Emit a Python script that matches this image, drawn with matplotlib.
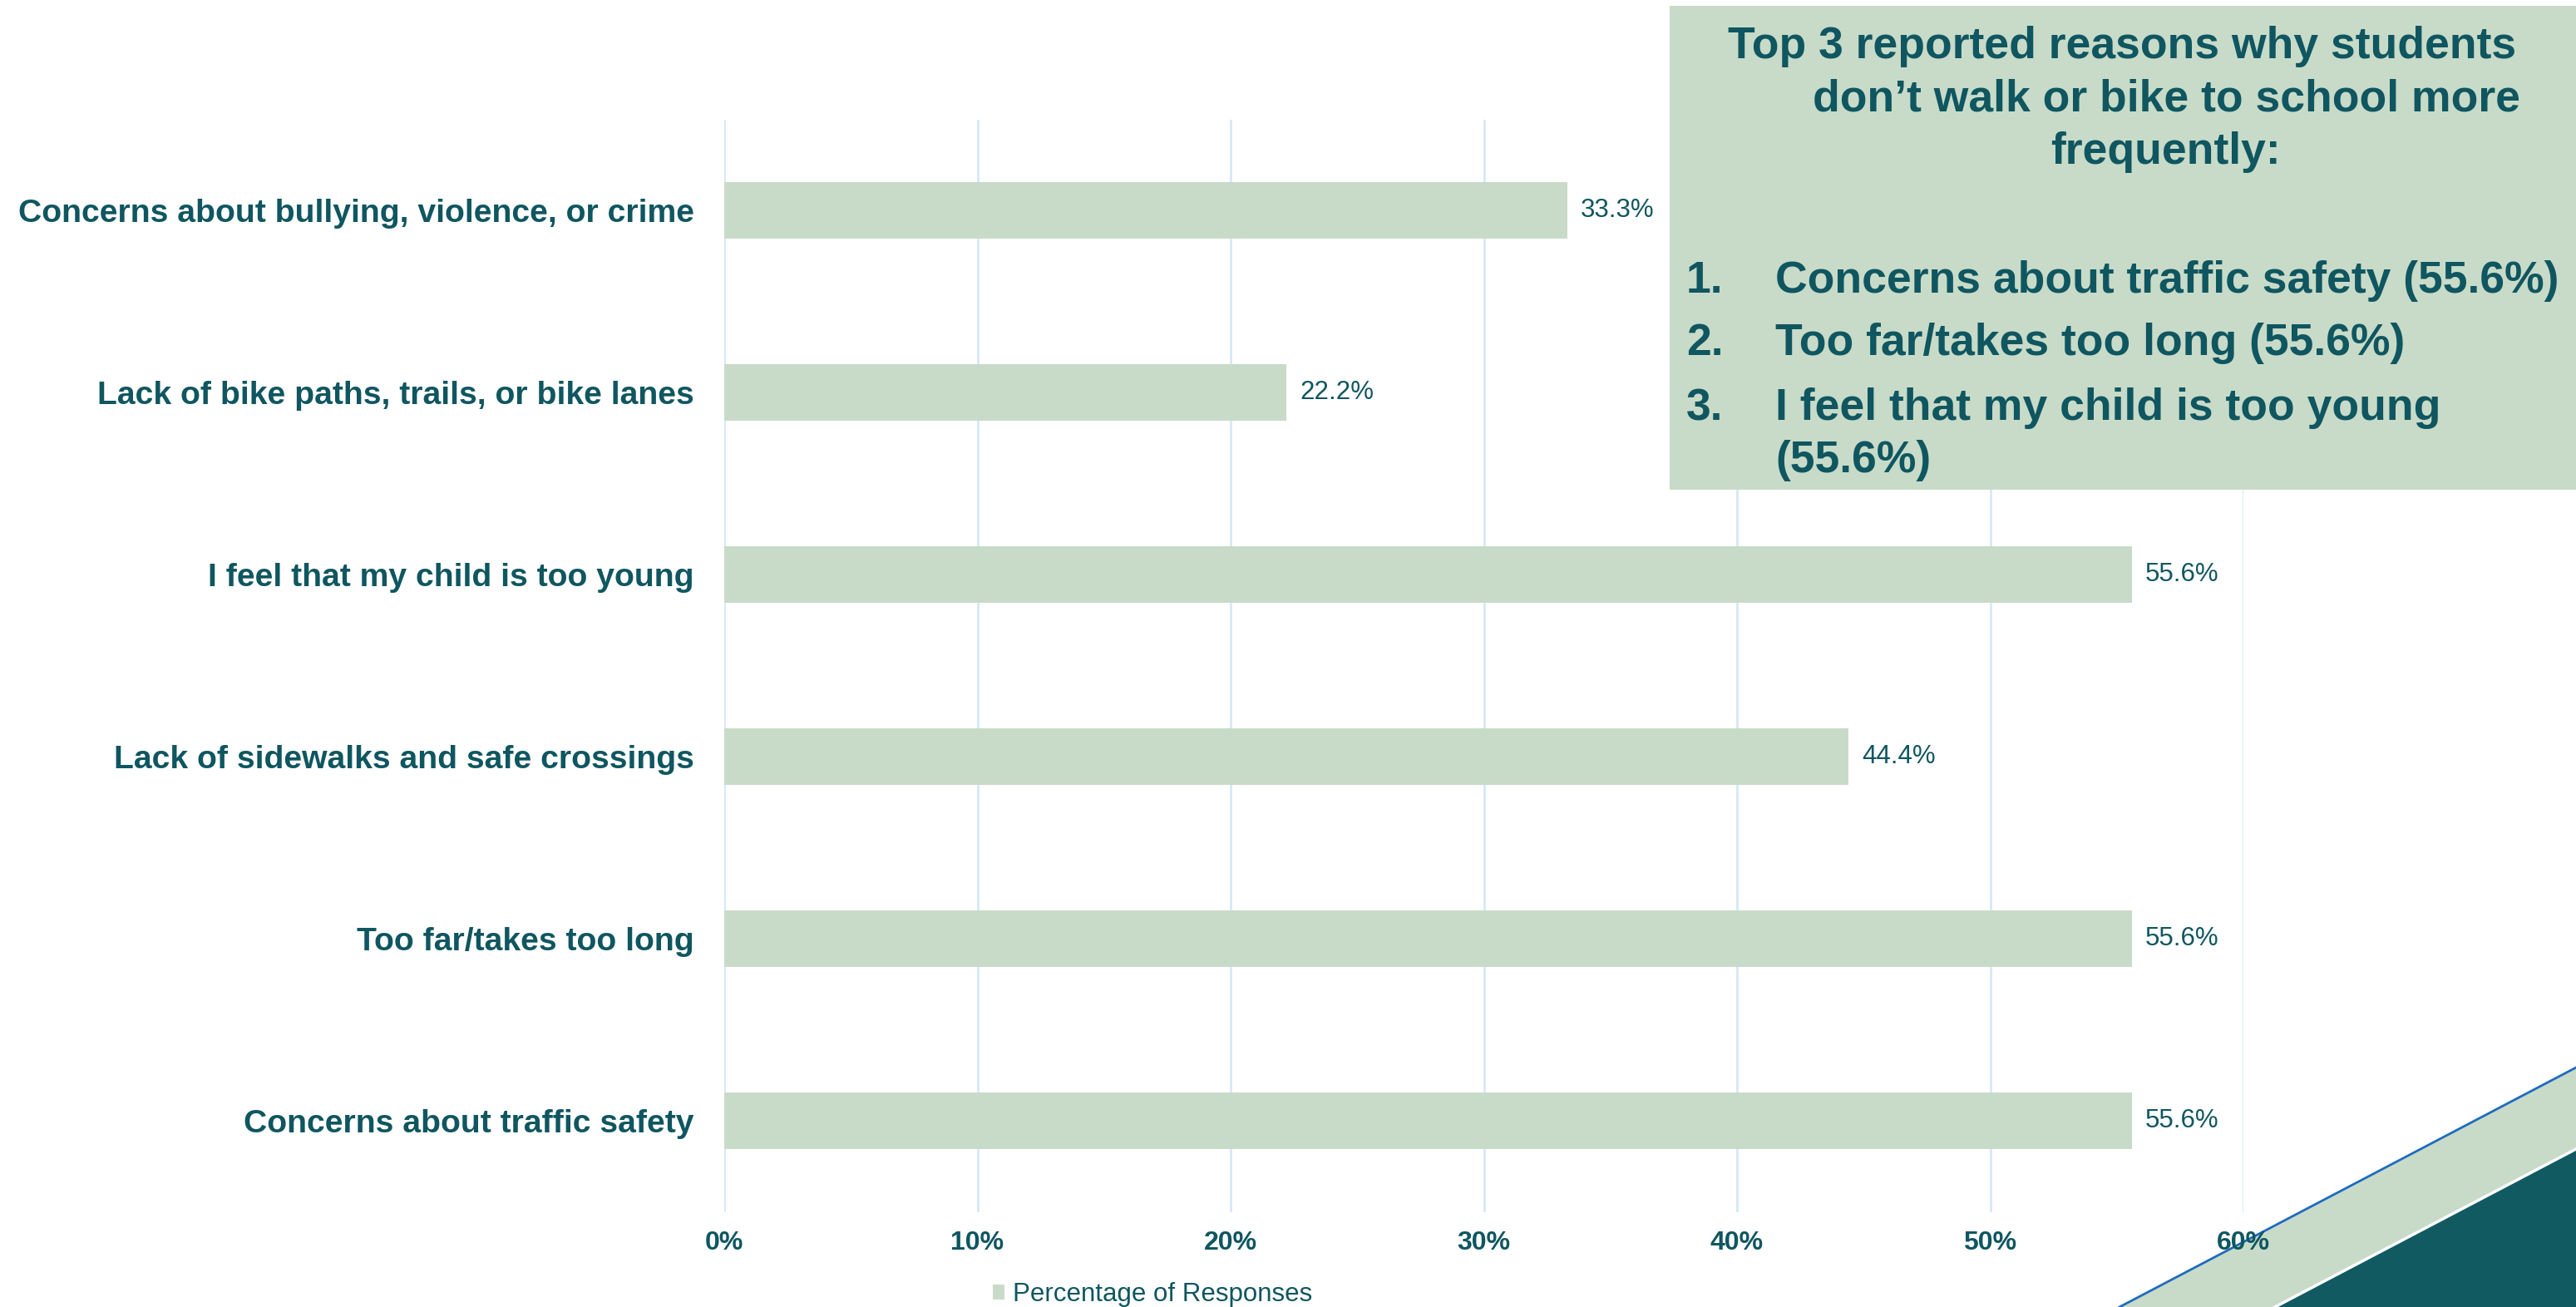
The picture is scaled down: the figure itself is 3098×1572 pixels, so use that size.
import matplotlib.pyplot as plt
from matplotlib.patches import Polygon, Rectangle
from matplotlib.ticker import PercentFormatter

# data, top to bottom as shown
reasons = ["Concerns about bullying, violence, or crime",
           "Lack of bike paths, trails, or bike lanes",
           "I feel that my child is too young",
           "Lack of sidewalks and safe crossings",
           "Too far/takes too long",
           "Concerns about traffic safety"]
pct = [33.3, 22.2, 55.6, 44.4, 55.6, 55.6]
xticks = [0, 10, 20, 30, 40, 50, 60]
series_name = "Percentage of Responses"

box_title = ["Top 3 reported reasons why students",
             "don\u2019t walk or bike to school more",
             "frequently:"]
top3 = [("1.", "Concerns about traffic safety (55.6%)"),
        ("2.", "Too far/takes too long (55.6%)"),
        ("3.", "I feel that my child is too young"),
        ("", "(55.6%)")]

teal = "#0F5660"
sage = "#C8DBC8"
dark = "#115A62"
grid = "#D6E8F8"

plt.rcParams['font.family'] = ['Liberation Sans', 'DejaVu Sans']

W, H = 3098, 1572
fig = plt.figure(figsize=(W / 100, H / 100), dpi=100)

# background corner decoration
bg = fig.add_axes([0, 0, 1, 1], zorder=-1)
bg.set_xlim(0, W)
bg.set_ylim(H, 0)
bg.axis("off")
bg.add_patch(Polygon([(2549, H), (W, 1284), (W, H)], closed=True, facecolor=sage, edgecolor="none"))
bg.add_patch(Polygon([(2736, H), (W, 1382), (W, H)], closed=True, facecolor=dark, edgecolor="none"))
bg.plot([2736, W], [H, 1382], color="white", lw=2.5)
bg.plot([2549, W], [H, 1284], color="#1F6BC0", lw=2)

# main chart
ax = fig.add_axes([871 / W, 1 - 1457.5 / H, (2698 - 871) / W, 1314 / H])
ax.patch.set_alpha(0)
y = list(range(len(reasons)))
bars = ax.barh(y, pct, height=0.31, color=sage, label=series_name, zorder=2)
ax.bar_label(bars, labels=[f"{v:.1f}%" for v in pct], padding=11.5,
             fontsize=22.5, color=teal)
ax.set_xlim(0, 60)
ax.set_ylim(5.5, -0.5)
ax.set_xticks(xticks)
ax.xaxis.set_major_formatter(PercentFormatter(decimals=0))
ax.set_yticks(y)
ax.set_yticklabels(reasons)
ax.grid(axis="x", color=grid, lw=2, zorder=0)
ax.set_axisbelow(True)
for s in ax.spines.values():
    s.set_visible(False)
ax.tick_params(axis="y", length=0, pad=26, labelsize=28.2, labelcolor=teal)
ax.tick_params(axis="x", length=0, pad=16, labelsize=23, labelcolor=teal)
for t in ax.get_yticklabels() + ax.get_xticklabels():
    t.set_fontweight("bold")

fig.legend(handles=[bars], labels=[series_name], loc="center",
           bbox_to_anchor=(1386 / W, 1 - 1557 / H), frameon=False,
           fontsize=22.5, labelcolor=teal, handlelength=0.46,
           handleheight=0.52, handletextpad=0.33, borderpad=0)

# summary box on top
fg = fig.add_axes([0, 0, 1, 1], zorder=5)
fg.set_xlim(0, W)
fg.set_ylim(H, 0)
fg.axis("off")
fg.patch.set_alpha(0)
fg.add_patch(Rectangle((2008, 7), W - 2008, 582, facecolor=sage, edgecolor="none"))
fg.text(2552, 70, box_title[0], ha="center", va="baseline", fontsize=38.5,
        fontweight="bold", color=teal)
fg.text(2606, 133, box_title[1], ha="center", va="baseline", fontsize=38.5,
        fontweight="bold", color=teal)
fg.text(2604, 197, box_title[2], ha="center", va="baseline", fontsize=38.5,
        fontweight="bold", color=teal)
for (num, txt), base in zip(top3, [352, 427, 505, 568]):
    if num:
        fg.text(2028, base, num, ha="left", va="baseline", fontsize=38.5,
                fontweight="bold", color=teal)
    fg.text(2135, base, txt, ha="left", va="baseline", fontsize=38.5,
            fontweight="bold", color=teal)

fig.savefig("out.png", dpi=100)
